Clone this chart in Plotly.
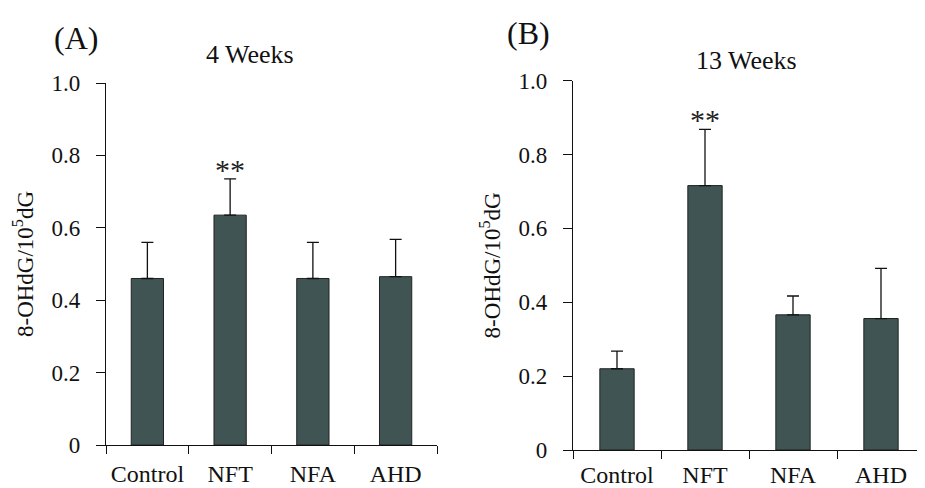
import plotly.graph_objects as go

categories = ["Control", "NFT", "NFA", "AHD"]
week4_mean = [0.46, 0.635, 0.46, 0.465]
week4_err = [0.10, 0.10, 0.10, 0.103]
week13_mean = [0.22, 0.716, 0.366, 0.356]
week13_err = [0.048, 0.152, 0.051, 0.136]
yticks = [0, 0.2, 0.4, 0.6, 0.8, 1.0]
yticklabels = ["0", "0.2", "0.4", "0.6", "0.8", "1.0"]

BAR = "#3f5453"
FONT = "Liberation Serif, Times New Roman, serif"
INK = "#111111"

# the page body has an 8px margin; size the figure to fit the window
OFF = 8
W, H = 925 - OFF, 488 - OFF


def X(px):
    return (px - OFF) / W


def Y(py):
    return 1 - (py - OFF) / H


fig = go.Figure()
for tr_means, tr_errs, xa, ya in [(week4_mean, week4_err, "x", "y"),
                                  (week13_mean, week13_err, "x2", "y2")]:
    fig.add_trace(go.Bar(
        x=categories, y=tr_means, xaxis=xa, yaxis=ya,
        marker=dict(color=BAR, line=dict(color="#222", width=1)), width=0.39,
        error_y=dict(type="data", symmetric=False, array=tr_errs,
                     arrayminus=[0] * 4, color=INK, thickness=1.3, width=6),
        showlegend=False))

xcommon = dict(type="category", range=[-0.5, 3.5], showline=True,
               linecolor=INK, linewidth=1.3, ticks="outside",
               tickson="boundaries", ticklen=8, tickcolor=INK,
               showgrid=False, zeroline=False, automargin=False,
               tickfont=dict(family=FONT, size=24, color=INK))
ycommon = dict(range=[0, 1.0], showline=True, linecolor=INK, linewidth=1.3,
               ticks="outside", ticklen=9, tickcolor=INK, showgrid=False,
               zeroline=False, tickvals=yticks, ticktext=yticklabels,
               automargin=False, ticklabelstandoff=11,
               tickfont=dict(family=FONT, size=23, color=INK),
               title=dict(text="8-OHdG/10<sup>5</sup>dG", standoff=11,
                          font=dict(family=FONT, size=23, color=INK)))

fig.update_layout(
    width=W, height=H,
    margin=dict(l=0, r=0, t=0, b=0),
    paper_bgcolor="white", plot_bgcolor="white",
    xaxis=dict(domain=[X(106), X(437)], anchor="y", ticklabelstandoff=7,
               **xcommon),
    yaxis=dict(domain=[Y(445), Y(83)], anchor="x", **ycommon),
    xaxis2=dict(domain=[X(573), 1.0], anchor="y2", ticklabelstandoff=3,
                **xcommon),
    yaxis2=dict(domain=[Y(450), Y(80.7)], anchor="x2", **ycommon),
)

annotations = [
    dict(text="(A)", x=X(76), y=Y(38), xref="paper", yref="paper",
         xanchor="center", yanchor="middle", showarrow=False,
         font=dict(family=FONT, size=32, color=INK)),
    dict(text="4 Weeks", x=X(250), y=Y(55), xref="paper", yref="paper",
         xanchor="center", yanchor="middle", showarrow=False,
         font=dict(family=FONT, size=26, color=INK)),
    dict(text="(B)", x=X(528), y=Y(33), xref="paper", yref="paper",
         xanchor="center", yanchor="middle", showarrow=False,
         font=dict(family=FONT, size=32, color=INK)),
    dict(text="13 Weeks", x=X(746), y=Y(61), xref="paper", yref="paper",
         xanchor="center", yanchor="middle", showarrow=False,
         font=dict(family=FONT, size=26, color=INK)),
    dict(text="**", x=categories[1], y=week4_mean[1] + week4_err[1],
         xref="x", yref="y", yanchor="middle", yshift=9, showarrow=False,
         font=dict(family=FONT, size=30, color="#222")),
    dict(text="**", x=categories[1], y=week13_mean[1] + week13_err[1],
         xref="x2", yref="y2", yanchor="middle", yshift=10, showarrow=False,
         font=dict(family=FONT, size=30, color="#222")),
]
fig.update_layout(annotations=annotations)

fig.write_html("out.html")
